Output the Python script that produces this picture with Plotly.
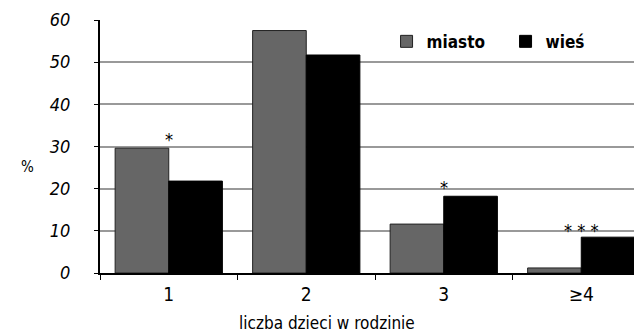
import plotly.graph_objects as go

categories = ["1", "2", "3", "≥4"]
miasto = [29.6, 57.5, 11.6, 1.2]
wies = [21.8, 51.7, 18.2, 8.5]
y_ticks = [0, 10, 20, 30, 40, 50, 60]
stars = ["*", "", "*", "* * *"]
star_heights = [28.6, 0, 17.3, 7.1]

FONT = "DejaVu Sans Condensed, Liberation Sans Narrow, Arial Narrow, sans-serif"

fig = go.Figure()
fig.add_trace(go.Bar(x=categories, y=miasto, name="miasto",
                     marker=dict(color="#666666", line=dict(color="#222222", width=1))))
fig.add_trace(go.Bar(x=categories, y=wies, name="wieś",
                     marker=dict(color="#000000", line=dict(color="#000000", width=1))))

for i, (s, h) in enumerate(zip(stars, star_heights)):
    if s:
        fig.add_annotation(x=i, y=h, text=s, showarrow=False, xanchor="center",
                           yanchor="bottom", font=dict(family=FONT, size=18, color="#000"))

fig.add_annotation(text="%", xref="paper", yref="paper", x=-0.147, y=0.419,
                   showarrow=False, font=dict(family=FONT, size=15, color="#000"))
fig.add_annotation(text="liczba dzieci w rodzinie", xref="paper", yref="paper",
                   x=0.413, y=-0.198, yanchor="middle", showarrow=False,
                   font=dict(family=FONT, size=17, color="#000"))

fig.update_layout(
    width=642, height=333,
    margin=dict(l=92, r=0, t=12, b=68),
    plot_bgcolor="white", paper_bgcolor="white",
    barmode="group", bargap=0.22, bargroupgap=0,
    font=dict(family=FONT, color="#000"),
    legend=dict(orientation="h", x=0.521, y=0.985, xanchor="left", yanchor="top",
                font=dict(family=FONT, size=17, color="#000", weight="bold"),
                entrywidthmode="pixels", entrywidth=74,
                bgcolor="rgba(0,0,0,0)"),
    xaxis=dict(type="category", range=[-0.5, 3.5], showline=True, linecolor="#000", linewidth=2,
               ticks="outside", tickson="boundaries", ticklen=5, tickcolor="#000",
               ticklabelstandoff=3,
               tickfont=dict(family=FONT, size=19, color="#000"), showgrid=False),
    yaxis=dict(range=[0, 60], tickvals=y_ticks, showline=True, linecolor="#000", linewidth=2,
               ticks="outside", ticklen=4, tickcolor="#000", ticklabelstandoff=20,
               gridcolor="#999999", gridwidth=1.5,
               tickfont=dict(family=FONT, size=18, color="#000", style="italic"), zeroline=False),
)

fig.write_html("out.html")
